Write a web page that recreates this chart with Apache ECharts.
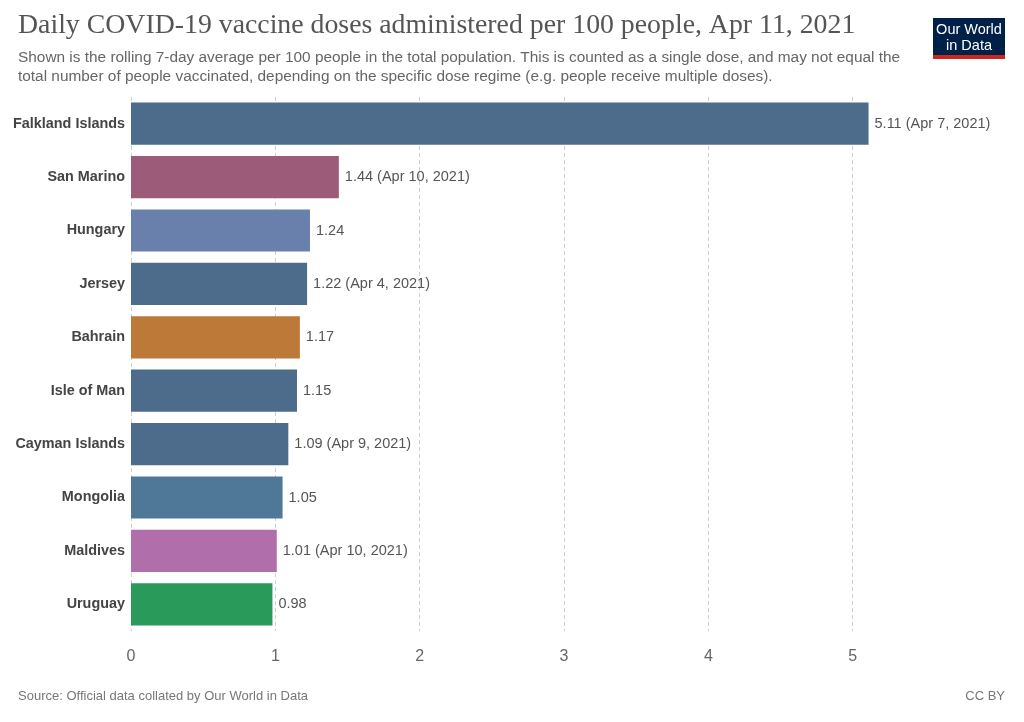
<!DOCTYPE html>
<html>
<head>
<meta charset="utf-8">
<script src="https://cdn.jsdelivr.net/npm/echarts@6/dist/echarts.min.js"></script>
<style>html,body{margin:0;padding:0;background:#fff;}#c{width:1024px;height:722px;}</style>
</head>
<body>
<div id="c"></div>
<script>
const countries = ["Falkland Islands","San Marino","Hungary","Jersey","Bahrain","Isle of Man","Cayman Islands","Mongolia","Maldives","Uruguay"];
const values = [5.11,1.44,1.24,1.22,1.17,1.15,1.09,1.05,1.01,0.98];
const dateNotes = ["Apr 7, 2021","Apr 10, 2021","","Apr 4, 2021","","","Apr 9, 2021","","Apr 10, 2021",""];
const xTicks = [0,1,2,3,4,5];
const barColors = ["#4d6b8b","#9c5b78","#6a80ac","#4d6b8b","#bd7938","#4d6b8b","#4d6b8b","#4f7898","#b06fab","#2a9a5b"];

const chart = echarts.init(document.getElementById('c'), null, {renderer:'canvas'});
const sans = "'Liberation Sans', Arial, sans-serif";
chart.setOption({
  animation:false,
  backgroundColor:'#fff',
  grid:{left:131, top:97, width:866, height:534, containLabel:false},
  xAxis:{type:'value', min:0, max:6, interval:1,
    axisLine:{show:false}, axisTick:{show:false}, splitLine:{show:false},
    axisLabel:{color:'#666', fontSize:16, fontFamily:sans, margin:18,
      formatter:v=> xTicks.indexOf(v)>=0 ? String(v) : ''}},
  yAxis:{type:'category', data:countries, inverse:true,
    axisLine:{show:false}, axisTick:{show:false},
    axisLabel:{color:'#444', fontSize:14.4, fontWeight:'bold', fontFamily:sans, margin:6}},
  series:[{
    type:'bar', barCategoryGap:'21%', z:3,
    data: values.map((v,i)=>({value:v, itemStyle:{color:barColors[i]}})),
    label:{show:true, position:'right', distance:6, color:'#555', fontSize:14.5, fontFamily:sans,
      formatter:p=> p.value.toFixed(2) + (dateNotes[p.dataIndex] ? ' ('+dateNotes[p.dataIndex]+')' : '')},
    markLine:{silent:true, symbol:'none', z:1, label:{show:false},
      lineStyle:{color:'#cfcfcf', type:[4,3], width:1},
      data: xTicks.map(t=>({xAxis:t}))}
  }],
  graphic:[
    {type:'text', left:18, top:12, style:{text:'Daily COVID-19 vaccine doses administered per 100 people, Apr 11, 2021', fill:'#555', fontSize:27.8, fontFamily:"'Liberation Serif', 'DejaVu Serif', serif"}},
    {type:'text', left:18, top:48, style:{text:'Shown is the rolling 7-day average per 100 people in the total population. This is counted as a single dose, and may not equal the\ntotal number of people vaccinated, depending on the specific dose regime (e.g. people receive multiple doses).', fill:'#666', fontSize:15.4, lineHeight:19, fontFamily:sans}},
    {type:'rect', left:933, top:18, shape:{width:72, height:37}, style:{fill:'#002147'}},
    {type:'rect', left:933, top:55, shape:{width:72, height:4}, style:{fill:'#ce261e'}},
    {type:'text', x:969, y:22, style:{text:'Our World\nin Data', fill:'#fff', fontSize:14.5, lineHeight:16, align:'center', verticalAlign:'top', fontFamily:sans}},
    {type:'text', left:18, top:690, style:{text:'Source: Official data collated by Our World in Data', fill:'#777', fontSize:13, fontFamily:sans}},
    {type:'text', right:19, top:690, style:{text:'CC BY', fill:'#777', fontSize:13, fontFamily:sans}}
  ]
});
</script>
</body>
</html>
